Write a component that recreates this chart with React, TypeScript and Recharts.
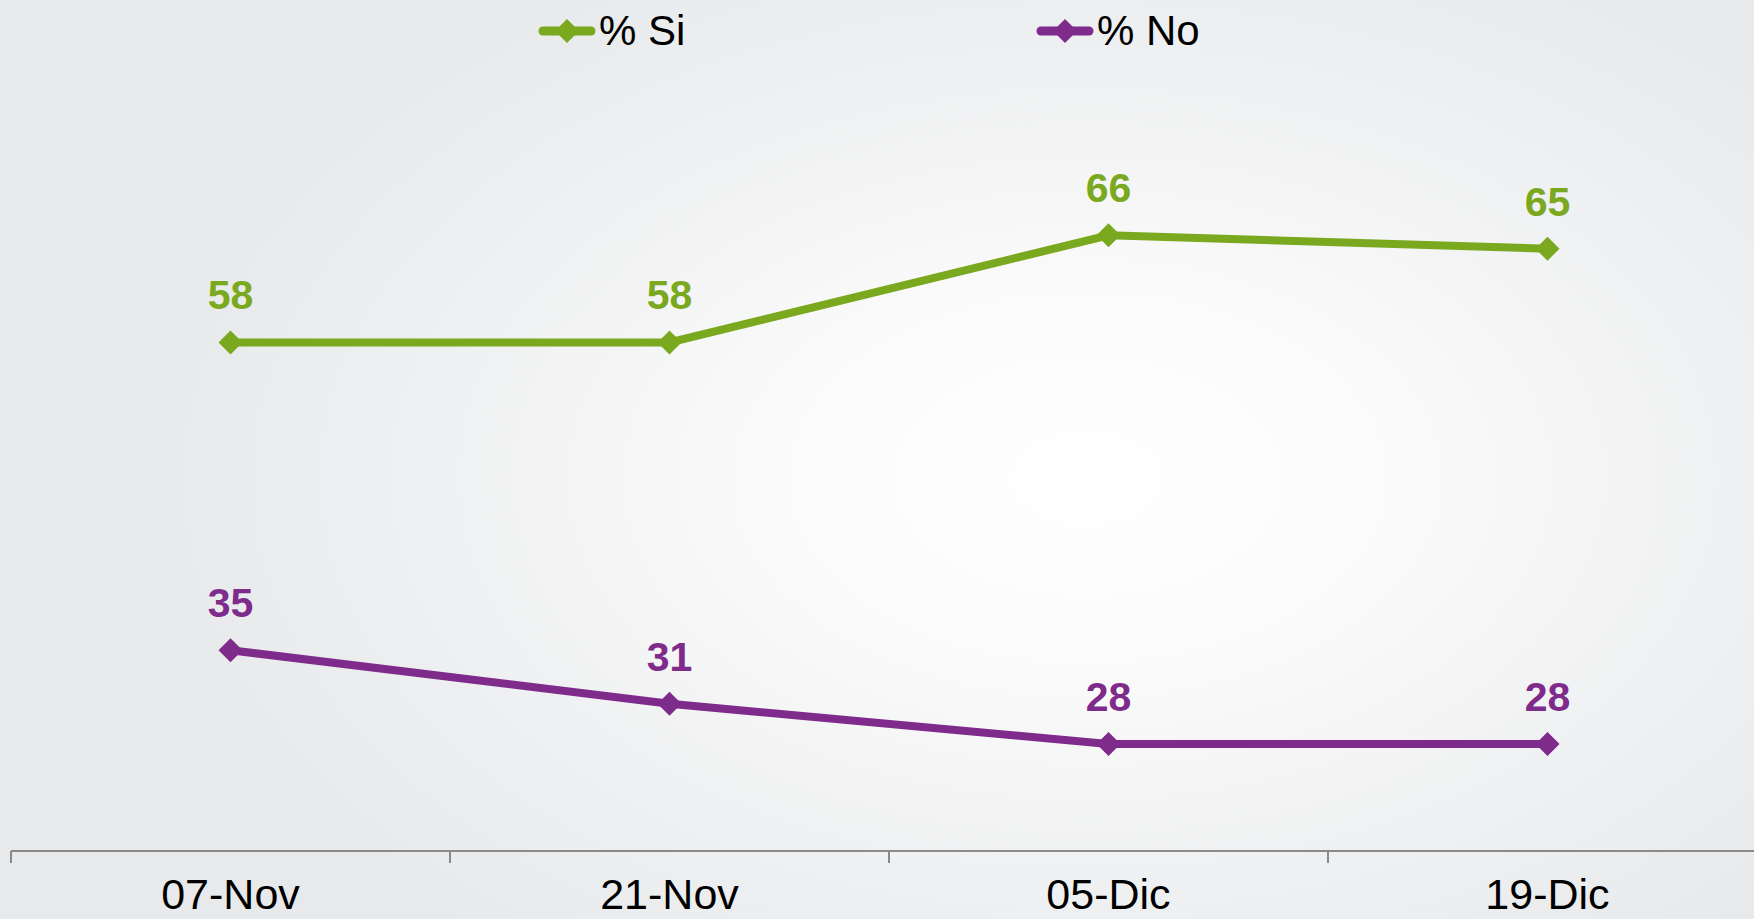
import { LineChart, Line, XAxis, YAxis, LabelList } from "recharts";

const categories = ["07-Nov", "21-Nov", "05-Dic", "19-Dic"];
const siValues = [58, 58, 66, 65];
const noValues = [35, 31, 28, 28];
const seriesNames = ["% Si", "% No"];

const GREEN = "#7aa81e";
const PURPLE = "#7e2b8b";
const AXIS_GRAY = "#8a8a8a";
const FONT = '"Liberation Sans", Arial, sans-serif';

const data = categories.map((date, i) => ({
  date,
  si: siValues[i],
  no: noValues[i],
}));

const W = 1754;
const H = 919;
// plot runs a little past the right edge, like the original
const CHART_W = 1767;
const MARGIN = { top: 48, right: 0, bottom: 0, left: 11 };
const STEP = (CHART_W - MARGIN.left - MARGIN.right) / categories.length;

const diamond = (color: string, r: number) => (props: any) => {
  const { cx, cy, index } = props;
  if (cx == null || cy == null) return <g key={index} />;
  return (
    <polygon
      key={index}
      points={`${cx},${cy - r} ${cx + r},${cy} ${cx},${cy + r} ${cx - r},${cy}`}
      fill={color}
    />
  );
};

const valueLabel = (color: string) => (props: any) => {
  const { x, y, value, index } = props;
  return (
    <text
      key={index}
      x={x}
      y={y - 33}
      textAnchor="middle"
      fill={color}
      fontSize={41}
      fontWeight="bold"
      fontFamily={FONT}
    >
      {value}
    </text>
  );
};

const AxisTick = (props: any) => {
  const { x, y, payload, index } = props;
  const last = index === categories.length - 1;
  return (
    <g>
      <line x1={x - STEP / 2} x2={x - STEP / 2} y1={y} y2={y + 12} stroke={AXIS_GRAY} strokeWidth={2} />
      {last && (
        <line x1={x + STEP / 2} x2={x + STEP / 2} y1={y} y2={y + 12} stroke={AXIS_GRAY} strokeWidth={2} />
      )}
      <text x={x} y={y + 58} textAnchor="middle" fill="#000" fontSize={43} fontFamily={FONT}>
        {payload.value}
      </text>
    </g>
  );
};

const LegendItem = ({ color, label, left }: { color: string; label: string; left: number }) => (
  <div style={{ position: "absolute", left, top: 8, display: "flex", alignItems: "center", height: 46 }}>
    <svg width={58} height={30}>
      <line x1={5} x2={53} y1={15} y2={15} stroke={color} strokeWidth={9} strokeLinecap="round" />
      <polygon points="29,3 41,15 29,27 17,15" fill={color} />
    </svg>
    <span style={{ fontSize: 42, fontFamily: FONT, color: "#000", marginLeft: 3, lineHeight: "46px" }}>
      {label}
    </span>
  </div>
);

export default function App() {
  return (
    <div
      style={{
        position: "absolute",
        left: 0,
        top: 0,
        width: W,
        height: H,
        overflow: "hidden",
        background:
          "radial-gradient(ellipse 55% 65% at 62% 52%, #ffffff 0%, #fbfbfb 30%, #f0f1f2 65%, #e8e9eb 100%)",
      }}
    >
      <LineChart width={CHART_W} height={H} data={data} margin={MARGIN}>
        <XAxis
          dataKey="date"
          axisLine={{ stroke: AXIS_GRAY, strokeWidth: 2 }}
          tickLine={false}
          tickSize={0}
          tickMargin={0}
          height={68}
          interval={0}
          padding={{ left: STEP / 2, right: STEP / 2 }}
          tick={<AxisTick />}
        />
        <YAxis hide domain={[20, 80]} />
        <Line
          dataKey="si"
          name={seriesNames[0]}
          stroke={GREEN}
          strokeWidth={8}
          dot={diamond(GREEN, 12)}
          activeDot={false}
          isAnimationActive={false}
        >
          <LabelList dataKey="si" content={valueLabel(GREEN)} />
        </Line>
        <Line
          dataKey="no"
          name={seriesNames[1]}
          stroke={PURPLE}
          strokeWidth={8}
          dot={diamond(PURPLE, 12)}
          activeDot={false}
          isAnimationActive={false}
        >
          <LabelList dataKey="no" content={valueLabel(PURPLE)} />
        </Line>
      </LineChart>
      <LegendItem color={GREEN} label={seriesNames[0]} left={538} />
      <LegendItem color={PURPLE} label={seriesNames[1]} left={1036} />
    </div>
  );
}
